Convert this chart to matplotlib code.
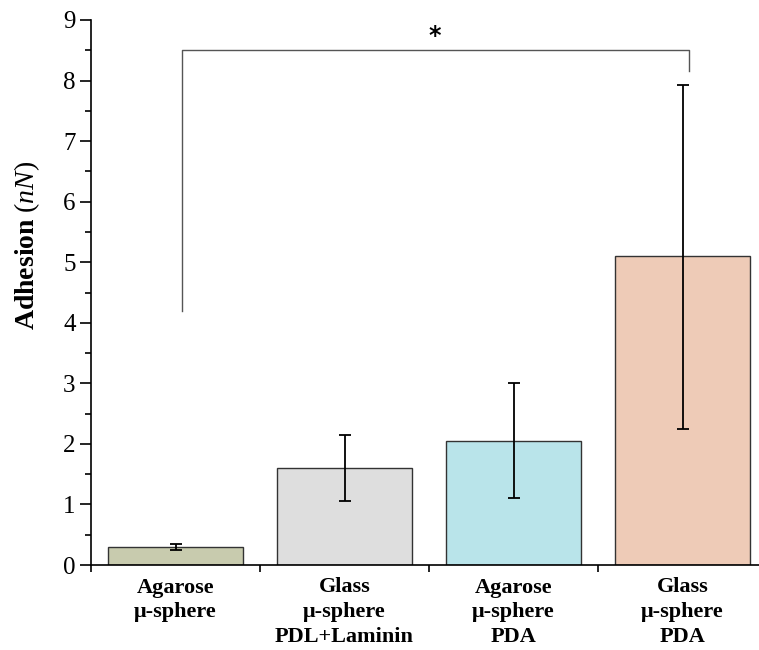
import matplotlib
matplotlib.use('Agg')
import matplotlib.pyplot as plt
import numpy as np

# data
categories = ['Agarose\nμ-sphere', 'Glass\nμ-sphere\nPDL+Laminin',
              'Agarose\nμ-sphere\nPDA', 'Glass\nμ-sphere\nPDA']
means = [0.30, 1.60, 2.05, 5.10]
err_low = [0.25, 1.05, 1.10, 2.25]
err_high = [0.35, 2.15, 3.00, 7.93]
colors = ['#c8cbae', '#dedede', '#b9e4ea', '#eecbb7']

# significance bracket between first and last bar
sig_left_bottom = 4.2
sig_right_bottom = 8.15
sig_top = 8.5

plt.rcParams['font.family'] = ['Liberation Serif', 'DejaVu Serif']
plt.rcParams['mathtext.fontset'] = 'custom'
plt.rcParams['mathtext.rm'] = 'Liberation Serif'
plt.rcParams['mathtext.it'] = 'Liberation Serif:italic'
plt.rcParams['mathtext.bf'] = 'Liberation Serif:bold'

fig = plt.figure(figsize=(7.59, 6.5), dpi=100)
ax = fig.add_axes([91 / 759, 85 / 650, 676 / 759, 545 / 650])

x = np.arange(len(categories))
means_a = np.array(means)
yerr = [means_a - np.array(err_low), np.array(err_high) - means_a]

ax.bar(x, means, width=0.8, color=colors, edgecolor='#333333', linewidth=1.0, zorder=2)
ax.errorbar(x, means, yerr=yerr, fmt='none', ecolor='black', elinewidth=1.3,
            capsize=4.5, capthick=1.3, zorder=3)

# bracket
off = 0.036
ax.plot([x[0] + off, x[0] + off, x[-1] + off, x[-1] + off],
        [sig_left_bottom, sig_top, sig_top, sig_right_bottom],
        color='#555555', linewidth=1.0, zorder=3)
ax.text((x[0] + x[-1]) / 2 + off, sig_top + 0.03, '*', ha='center', va='bottom',
        fontsize=17, fontweight='bold', family='DejaVu Sans')

ax.set_xlim(-0.5, 3.5)
ax.set_ylim(0, 9)

ax.spines['top'].set_visible(False)
ax.spines['right'].set_visible(False)
for s in ['left', 'bottom']:
    ax.spines[s].set_linewidth(1.2)

ax.set_yticks(np.arange(0, 10, 1))
ax.set_yticks(np.arange(0.5, 9, 1), minor=True)
ax.tick_params(axis='y', which='major', direction='out', length=8, width=1.2,
               labelsize=18, pad=3)
ax.tick_params(axis='y', which='minor', direction='out', length=4, width=1.2)

ax.set_xticks(np.arange(-0.5, 4, 1))
ax.set_xticklabels([])
ax.set_xticks(x, minor=True)
ax.set_xticklabels(categories, minor=True, fontsize=16, fontweight='bold',
                   linespacing=1.33, va='top')
ax.tick_params(axis='x', which='major', direction='out', length=5, width=1.2)
ax.tick_params(axis='x', which='minor', length=0, pad=9)

ax.set_ylabel(r'$\mathbf{Adhesion}\ \mathit{(nN)}$', fontsize=20)
ax.yaxis.set_label_coords(-0.072, 0.587)

fig.savefig('out.png', dpi=100)
